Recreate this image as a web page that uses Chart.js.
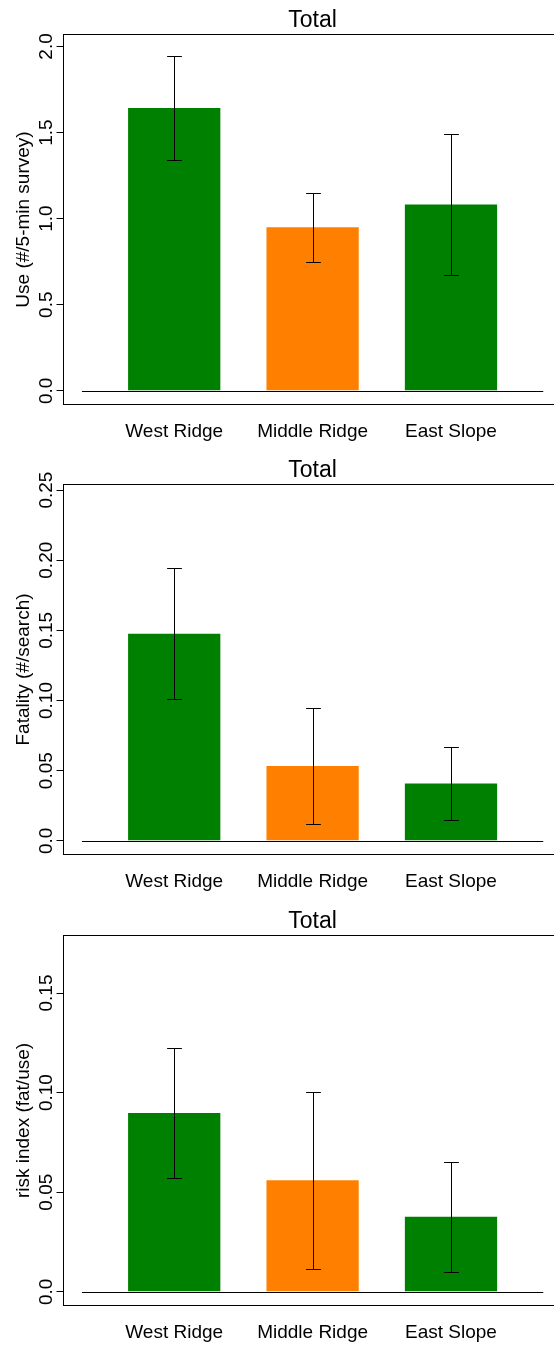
<!DOCTYPE html>
<html>
<head>
<meta charset="utf-8">
<script src="https://cdn.jsdelivr.net/npm/chart.js@4/dist/chart.umd.min.js"></script>
<style>
  html, body { margin: 0; padding: 0; background: #fff; overflow: hidden; width: 554px; height: 1345px; }
  canvas.panel { position: absolute; left: 0; }
</style>
</head>
<body>
<canvas id="useChart" class="panel" width="580" height="448" style="top:0px"></canvas>
<canvas id="fatChart" class="panel" width="580" height="448" style="top:450px"></canvas>
<canvas id="riskChart" class="panel" width="580" height="448" style="top:901px"></canvas>
<script>
// Sites along the ridge
const categories = ['West Ridge', 'Middle Ridge', 'East Slope'];

// Use: birds per 5-minute survey, mean with interval bounds
const useMean  = [1.643, 0.950, 1.082];
const useLower = [1.340, 0.751, 0.672];
const useUpper = [1.942, 1.148, 1.494];
const useTicks = [0, 0.5, 1.0, 1.5, 2.0];
const useTickLabels = ['0.0', '0.5', '1.0', '1.5', '2.0'];

// Fatality: carcasses per search
const fatMean  = [0.1476, 0.0534, 0.0408];
const fatLower = [0.1008, 0.0120, 0.0147];
const fatUpper = [0.1943, 0.0945, 0.0667];
const fatTicks = [0, 0.05, 0.10, 0.15, 0.20, 0.25];
const fatTickLabels = ['0.0', '0.05', '0.10', '0.15', '0.20', '0.25'];

// Risk index: fatality relative to use
const riskMean  = [0.0898, 0.0560, 0.0377];
const riskLower = [0.0573, 0.0114, 0.0101];
const riskUpper = [0.1222, 0.1004, 0.0650];
const riskTicks = [0, 0.05, 0.10, 0.15];
const riskTickLabels = ['0.0', '0.05', '0.10', '0.15'];

const FONT = "'Liberation Sans', Arial, Helvetica, sans-serif";
const GREEN = '#008000';
const ORANGE = '#FF8000';
const barColors = [GREEN, ORANGE, GREEN];

// barplot layout: unit-width bars separated by half a bar
const barSlots = categories.map((_, i) => 1 + i * 1.5);
const X_LIM = [0, 5];

Chart.defaults.color = '#000';
Chart.defaults.font.family = FONT;

// Frame, baseline, error bars, rotated tick labels and the panel heading
const rFrame = {
  id: 'rFrame',
  afterDatasetsDraw(chart, args, opts) {
    const { ctx, scales: { x, y } } = chart;
    ctx.save();
    ctx.strokeStyle = '#000';
    ctx.lineWidth = 1;
    const y0 = Math.round(y.getPixelForValue(0)) + 0.5;
    ctx.beginPath();
    ctx.moveTo(x.getPixelForValue(X_LIM[0]), y0);
    ctx.lineTo(x.getPixelForValue(X_LIM[1]), y0);
    ctx.stroke();
    opts.lower.forEach((lo, i) => {
      const hi = opts.upper[i];
      const cx = Math.round(x.getPixelForValue(barSlots[i])) + 0.5;
      const half = x.getPixelForValue(barSlots[i] + 0.08) - x.getPixelForValue(barSlots[i]);
      const yLo = Math.round(y.getPixelForValue(lo)) + 0.5;
      const yHi = Math.round(y.getPixelForValue(hi)) + 0.5;
      ctx.beginPath();
      ctx.moveTo(cx, yLo); ctx.lineTo(cx, yHi);
      ctx.moveTo(cx - half, yLo); ctx.lineTo(cx + half, yLo);
      ctx.moveTo(cx - half, yHi); ctx.lineTo(cx + half, yHi);
      ctx.stroke();
    });
    ctx.restore();
  },
  afterDraw(chart, args, opts) {
    const { ctx, chartArea: a, scales: { y } } = chart;
    ctx.save();
    ctx.strokeStyle = '#000';
    ctx.lineWidth = 1;
    ctx.strokeRect(a.left, a.top, a.right - a.left, a.bottom - a.top);

    ctx.fillStyle = '#000';
    ctx.font = '19px ' + FONT;
    ctx.textAlign = 'center';
    ctx.textBaseline = 'alphabetic';
    y.ticks.forEach(t => {
      ctx.save();
      ctx.translate(52, y.getPixelForValue(t.value));
      ctx.rotate(-Math.PI / 2);
      ctx.fillText(t.label, 0, 0);
      ctx.restore();
    });

    ctx.font = '23px ' + FONT;
    ctx.fillText(opts.heading, (a.left + a.right) / 2, 27);
    ctx.restore();
  }
};

function drawPanel(canvasId, heading, axisTitle, mean, lower, upper, yTop, tickValues, tickLabels) {
  new Chart(document.getElementById(canvasId), {
    type: 'bar',
    data: {
      datasets: [{
        data: mean.map((v, i) => ({ x: barSlots[i], y: v })),
        backgroundColor: barColors,
        borderWidth: 0,
        categoryPercentage: 1,
        barPercentage: 2 / 3
      }]
    },
    options: {
      responsive: false,
      animation: false,
      events: [],
      layout: { padding: { top: 34.5, right: 18.3, left: 0, bottom: 0 } },
      plugins: {
        legend: { display: false },
        title: { display: false },
        tooltip: { enabled: false },
        rFrame: { heading, lower, upper }
      },
      scales: {
        x: {
          type: 'linear',
          offset: false,
          min: X_LIM[0] - 0.04 * (X_LIM[1] - X_LIM[0]),
          max: X_LIM[1] + 0.04 * (X_LIM[1] - X_LIM[0]),
          afterBuildTicks: s => { s.ticks = barSlots.map(v => ({ value: v })); },
          afterFit: s => { s.height = 43.5; },
          grid: { display: false, drawTicks: false, offset: false },
          border: { display: false },
          ticks: {
            callback: (v, i) => categories[i],
            autoSkip: false,
            maxRotation: 0,
            minRotation: 0,
            padding: 16,
            color: '#000',
            font: { size: 19, family: FONT }
          }
        },
        y: {
          type: 'linear',
          min: -0.04 * yTop,
          max: 1.04 * yTop,
          afterBuildTicks: s => { s.ticks = tickValues.map(v => ({ value: v })); },
          afterFit: s => { s.width = 63.5; },
          grid: { display: true, drawOnChartArea: false, drawTicks: true, tickLength: 7, color: '#000', lineWidth: 1 },
          border: { display: true, color: '#000', width: 1 },
          ticks: {
            display: false,
            callback: (v, i) => tickLabels[i]
          },
          title: {
            display: true,
            text: axisTitle,
            color: '#000',
            font: { size: 19, family: FONT },
            padding: { top: 12, bottom: 0 }
          }
        }
      }
    },
    plugins: [rFrame]
  });
}

drawPanel('useChart', 'Total', 'Use (#/5-min survey)', useMean, useLower, useUpper, 1.99, useTicks, useTickLabels);
drawPanel('fatChart', 'Total', 'Fatality (#/search)', fatMean, fatLower, fatUpper, 0.2442, fatTicks, fatTickLabels);
drawPanel('riskChart', 'Total', 'risk index (fat/use)', riskMean, riskLower, riskUpper, 0.172, riskTicks, riskTickLabels);
</script>
</body>
</html>
